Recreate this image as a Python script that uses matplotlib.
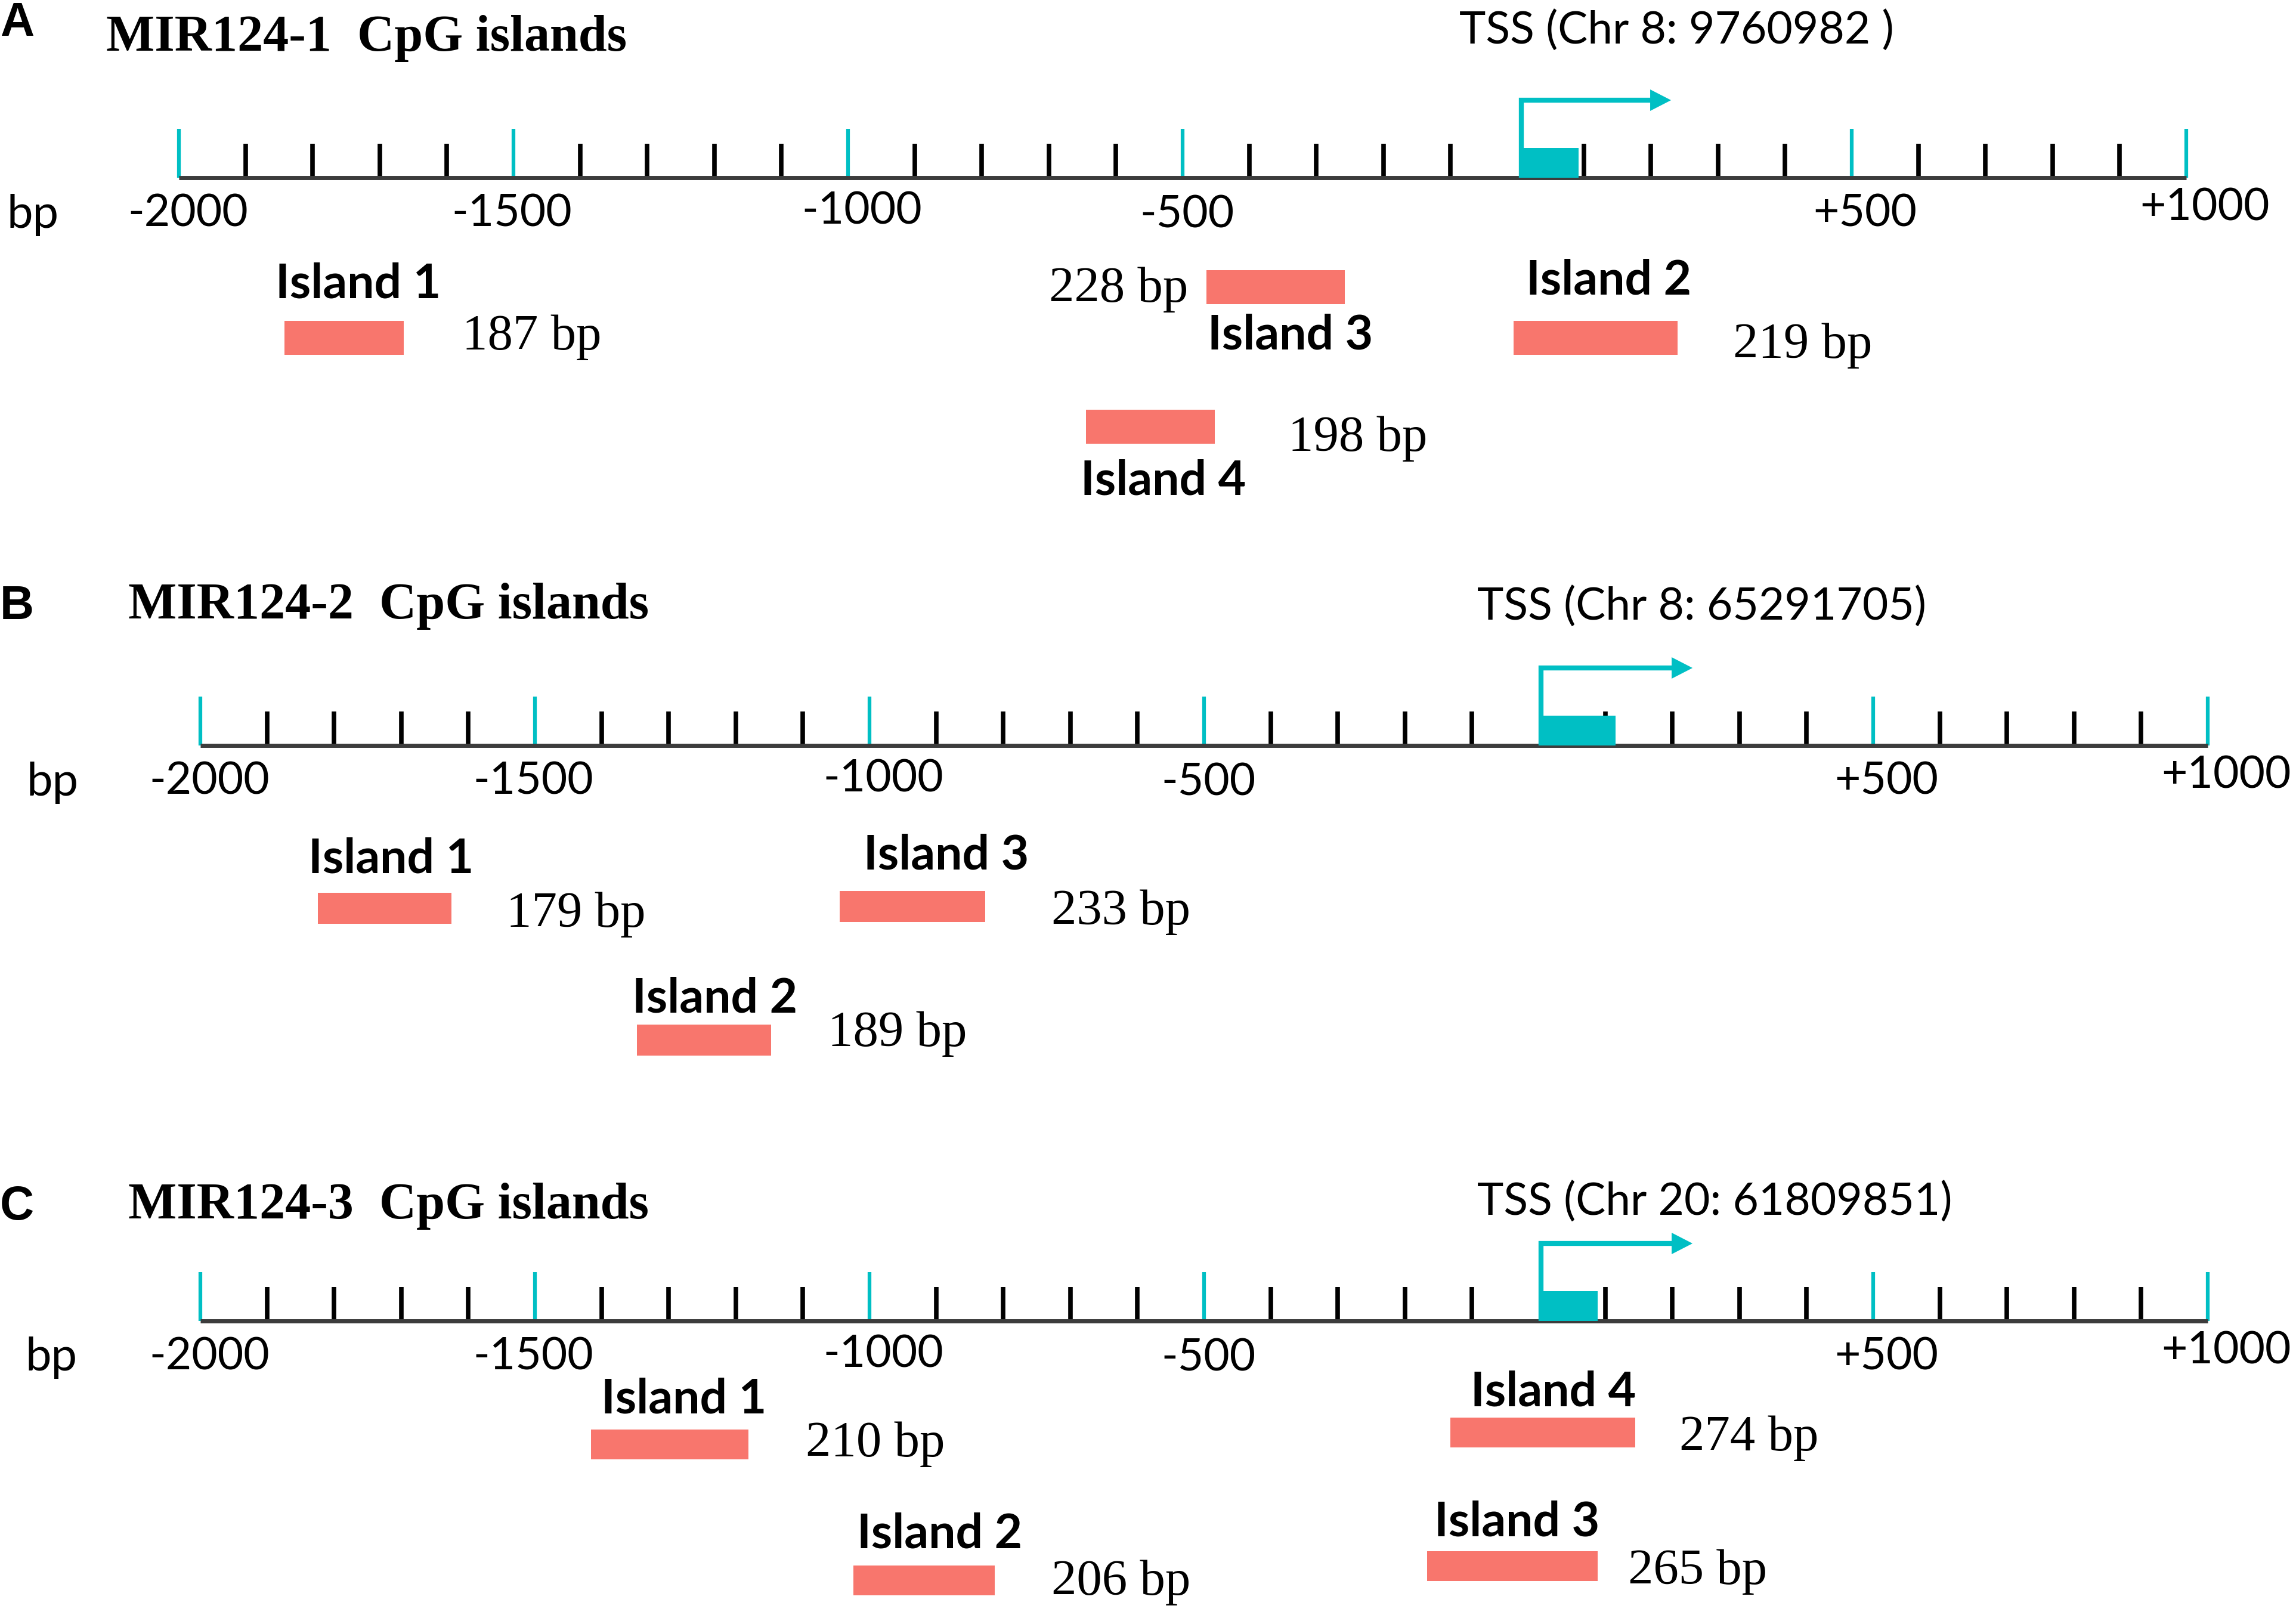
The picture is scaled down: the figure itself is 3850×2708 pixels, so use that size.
import numpy as np
import matplotlib.pyplot as plt

# Figure in pixels
W, H = 3850, 2708
PX_PER_BP = 1.122

# Data
panel_letters = ['A', 'B', 'C']
gene_names = ['MIR124-1', 'MIR124-2', 'MIR124-3']
tss_labels = ['TSS (Chr 8: 9760982 )', 'TSS (Chr 8: 65291705)', 'TSS (Chr 20: 61809851)']
tick_values = [-2000, -1500, -1000, -500, 500, 1000]
tick_labels = ['-2000', '-1500', '-1000', '-500', '+500', '+1000']

# promoter box right after the TSS (bp)
box_start = [6, 4, 4]
box_end = [92, 115, 88]

# CpG islands, start / end in bp relative to TSS
a_names = ['Island 1', 'Island 3', 'Island 2', 'Island 4']
a_start = [-1842, -464, -5, -644]
a_end = [-1664, -258, 240, -452]
a_size = ['187 bp', '228 bp', '219 bp', '198 bp']

b_names = ['Island 1', 'Island 3', 'Island 2']
b_start = [-1824, -1045, -1348]
b_end = [-1625, -827, -1147]
b_size = ['179 bp', '233 bp', '189 bp']

c_names = ['Island 1', 'Island 2', 'Island 4', 'Island 3']
c_start = [-1416, -1024, -132, -167]
c_end = [-1181, -813, 144, 88]
c_size = ['210 bp', '206 bp', '274 bp', '265 bp']

# Layout (pixels)
axis_y = [298, 1250, 2215]
left_px = [300, 336, 336]
letter_y = [40, 1018, 2024]
title_x = [178, 215, 215]
title_y = [64, 1017, 2022]
tss_x = [2447, 2477, 2477]
tss_y = [51, 1017, 2015]
bp_x = [12, 45, 43]
bar_h = [57, 52, 50]
tick_dx = [15, -3, 23, 8, 22, 31]
tick_dy = [0, 0, -4, 2, 0, -10]

# per island: bar y, label y, label dx, size y, size gap (negative = left of bar)
a_lay = [(566, 476, -15, 565, 98), (481, 563, 2, 485, -31),
         (566, 471, 21, 580, 93), (715, 807, -9, 735, 123)]
b_lay = [(1523, 1440, -16, 1533, 92), (1520, 1435, 40, 1529, 111),
         (1744, 1674, -8, 1733, 95)]
c_lay = [(2422, 2346, 17, 2421, 96), (2650, 2573, 6, 2653, 95),
         (2402, 2334, 34, 2412, 74), (2626, 2552, 12, 2636, 51)]

islands = [(a_names, a_start, a_end, a_size, a_lay),
           (b_names, b_start, b_end, b_size, b_lay),
           (c_names, c_start, c_end, c_size, c_lay)]

CYAN = '#00BFC4'
SALMON = '#F8766D'
SANS = ['Lato', 'DejaVu Sans']
SERIF = ['Liberation Serif', 'DejaVu Serif']

fig = plt.figure(figsize=(W / 100, H / 100), dpi=100)

for p in range(3):
    ax = fig.add_axes([0, 0, 1, 1])
    x0 = -2000 - left_px[p] / PX_PER_BP
    ax.set_xlim(x0, x0 + W / PX_PER_BP)
    ax.set_ylim(H, 0)
    ax.axis('off')
    y = axis_y[p]

    # headers
    fig.text(0.0, 1 - letter_y[p] / H, panel_letters[p], fontsize=57, fontweight='bold',
             family=['Liberation Sans', 'DejaVu Sans'], va='center', ha='left')
    fig.text(title_x[p] / W, 1 - title_y[p] / H, gene_names[p] + '  CpG islands',
             fontsize=62, fontweight='bold', family=SERIF, va='center', ha='left')
    fig.text(tss_x[p] / W, 1 - tss_y[p] / H, tss_labels[p], fontsize=54,
             family=SANS, va='center', ha='left')

    # ruler
    all_ticks = np.arange(-2000, 1001, 100)
    minor = [t for t in all_ticks if t % 500 != 0]
    major = [t for t in all_ticks if t % 500 == 0 and t != 0]
    ax.vlines(minor, y - 57, y, color='black', lw=5.5)
    ax.vlines(major, y - 82, y, color=CYAN, lw=4.5)
    ax.plot([-2000, 1000], [y, y], color='#3c3c3c', lw=5, solid_capstyle='butt')

    for t, lab, dx, dy in zip(tick_values, tick_labels, tick_dx, tick_dy):
        ax.text(t + dx / PX_PER_BP, y + 60 + dy, lab, fontsize=54, family=SANS,
                ha='center', va='center')
    ax.text(x0 + bp_x[p] / PX_PER_BP, y + 62, 'bp', fontsize=56, family=SANS,
            ha='left', va='center')

    # TSS box and arrow
    ax.add_patch(plt.Rectangle((box_start[p], y - 50), box_end[p] - box_start[p], 50,
                               color=CYAN, lw=0, zorder=3))
    tss = box_start[p]
    arr_y = y - 130
    tip = 230
    head_len = 35 / PX_PER_BP
    ax.plot([tss, tss, tip - head_len + 2], [y, arr_y, arr_y], color=CYAN, lw=6,
            solid_joinstyle='miter', solid_capstyle='butt', zorder=3)
    ax.fill([tip - head_len, tip, tip - head_len], [arr_y - 18, arr_y, arr_y + 18],
            color=CYAN, lw=0, zorder=3)

    # islands
    names, starts, ends, sizes, lay = islands[p]
    for name, s, e, size, (by, ly, ldx, sy, sgap) in zip(names, starts, ends, sizes, lay):
        ax.barh(by, e - s, left=s, height=bar_h[p], color=SALMON, lw=0)
        ax.text(s + ldx / PX_PER_BP, ly, name, fontsize=58, fontweight='bold',
                family=SANS, ha='left', va='center')
        if sgap >= 0:
            ax.text(e + sgap / PX_PER_BP, sy, size, fontsize=61, family=SERIF,
                    ha='left', va='center')
        else:
            ax.text(s + sgap / PX_PER_BP, sy, size, fontsize=61, family=SERIF,
                    ha='right', va='center')

fig.savefig('out.png', dpi=100)
